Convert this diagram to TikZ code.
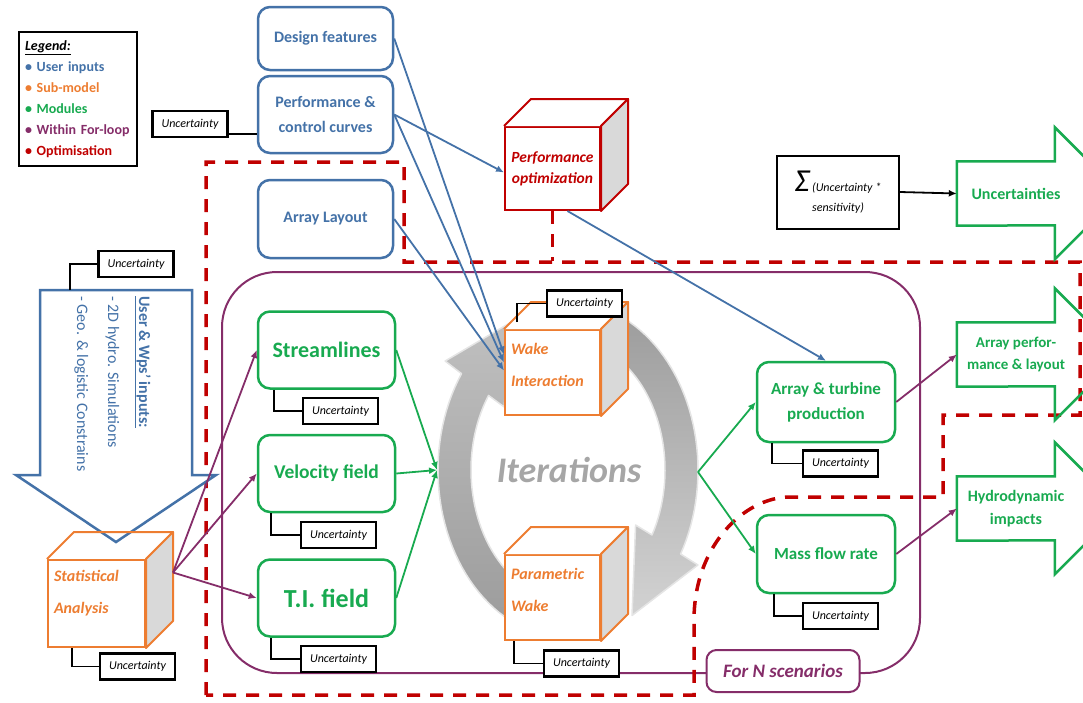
\documentclass[tikz,border=0pt]{standalone}
\usepackage{fontspec}
\setmainfont{Carlito}
\usepackage{tikz}
\usetikzlibrary{arrows.meta, % for arrow tips
                calc} % for relative coord calculations

\definecolor{userblue}{RGB}{68,114,168}
\definecolor{submodel}{RGB}{237,125,49}
\definecolor{modgreen}{RGB}{24,170,80}
\definecolor{looppurple}{RGB}{133,45,105}
\definecolor{optred}{RGB}{192,0,0}

% top and side faces of a cube whose front face is node #1
\newcommand{\cubefaces}[3]{%
  \filldraw[#2, line width=2pt, line join=round, fill=#3] (#1.north west) -- ++(27,-27) -- ([shift={(27,-27)}]#1.north east) -- (#1.north east);
  \filldraw[#2, line width=2pt, line join=round, fill=gray!30] (#1.north east) -- ([shift={(27,-27)}]#1.north east) -- ([shift={(27,-27)}]#1.south east) -- (#1.south east) -- cycle;
}

\begin{document}
\begin{tikzpicture}[x=1pt, y=-1pt,
                    >={Latex[length=8pt,width=7pt]},
                    inbox/.style={draw=userblue, line width=2.5pt, rounded corners=12pt, fill=white, text=userblue, font=\bfseries\fontsize{16}{25}\selectfont, align=center, minimum width=135pt},
                    modbox/.style={draw=modgreen, line width=2.5pt, rounded corners=12pt, fill=white, text=modgreen, align=center, minimum width=137pt, minimum height=77pt},
                    unc/.style={draw=black, line width=2.2pt, fill=white, font=\itshape\fontsize{12}{14}\selectfont, minimum width=75pt, minimum height=26pt, inner sep=1pt},
                    uncline/.style={draw=black, line width=1.5pt},
                    subcube/.style={draw=submodel, line width=2pt, fill=white, text=submodel, font=\bfseries\itshape\fontsize{16}{32}\selectfont, align=left, text width=83pt, inner xsep=6pt, minimum height=85pt},
                    optcube/.style={draw=optred, line width=2pt, fill=white, text=optred, font=\bfseries\itshape\fontsize{15.5}{21}\selectfont, align=center, minimum width=95pt, minimum height=83pt, inner sep=0pt},
                    outtext/.style={text=modgreen, font=\bfseries\fontsize{16}{23}\selectfont, align=center, minimum width=118pt, minimum height=64pt, inner sep=0pt},
                    outarrow/.style={draw=modgreen, line width=2.5pt, line join=miter},
                    userline/.style={->, draw=userblue, line width=1.8pt},
                    modline/.style={->, draw=modgreen, line width=1.8pt},
                    loopline/.style={->, draw=looppurple, line width=1.8pt},
                    optline/.style={draw=optred, line width=3.5pt, dash pattern=on 13pt off 10pt},
                    cyclearrow/.style={draw=gray!20, line width=1.5pt, line join=round}
                    ]
    \useasboundingbox (0,0) rectangle (1083,702);

    %for-loop frame
    \draw[looppurple, line width=2pt, rounded corners=55pt] (222,272) rectangle (920,673);

    %optimisation frame
    \draw[optline] (206,695) -- (206,162) -- (404,162) -- (404,262) -- (1080,262) -- (1080,415)
        -- (943,415) -- (943,497) -- (790,497) .. controls (745,497) and (694,545) .. (694,620) -- (694,695) -- cycle;

    %iteration cycle
    \coordinate (cycin) at (437,470);
    \coordinate (cycout) at (698,472);
    \draw[cyclearrow, top color=gray!50, bottom color=gray!78]
        plot[domain=105:215, samples=40] ({568+130*cos(\x)}, {470+168*sin(\x)})
        -- ({568+150*cos(215)}, {470+190*sin(215)})
        -- ({568+125*cos(243)}, {470+166*sin(243)})
        -- ({568+78*cos(215)}, {470+110*sin(215)})
        -- plot[domain=215:105, samples=40] ({568+97*cos(\x)}, {470+130*sin(\x)})
        -- cycle;
    \draw[cyclearrow, top color=gray!78, bottom color=gray!35]
        plot[domain=285:390, samples=40] ({568+130*cos(\x)}, {470+168*sin(\x)})
        -- ({568+150*cos(390)}, {470+190*sin(390)})
        -- ({568+128*cos(420)}, {470+168*sin(420)})
        -- ({568+78*cos(390)}, {470+110*sin(390)})
        -- plot[domain=390:285, samples=40] ({568+97*cos(\x)}, {470+130*sin(\x)})
        -- cycle;
    \node[text=gray!70, font=\bfseries\itshape\fontsize{36}{40}\selectfont] (iter) at (569,470) {Iterations};

    %user inputs arrow
    \draw[userblue, line width=2.5pt, fill=white, line join=miter] (40,290) -- (192,290) -- (192,475) -- (216,475) -- (116,542) -- (16,475) -- (40,475) -- cycle;
    \coordinate (wpstop) at (70,290);
    \node[rotate=-90, anchor=north west, align=left, text=userblue, font=\fontsize{16}{31}\selectfont, inner sep=0pt] (wps) at (151,296)
        {\textbf{\underline{User \& Wps' inputs:}}\\- 2D hydro. Simulations\\- Geo. \& logistic Constrains};

    %legend
    \node[draw, line width=2pt, align=left, text width=106pt, inner sep=6pt, minimum height=134pt, font=\bfseries\fontsize{14}{21}\selectfont] (legend) at (78,99)
        {\textit{\underline{Legend:}}\\
         \textcolor{userblue}{• User inputs}\\
         \textcolor{submodel}{• Sub-model}\\
         \textcolor{modgreen}{• Modules}\\
         \textcolor{looppurple}{• Within For-loop}\\
         \textcolor{optred}{• Optimisation}};

    %user input boxes
    \node[inbox, minimum height=63pt] (design) at (325.5,38.5) {Design features};
    \node[inbox, minimum height=77pt] (perfc) at (325.5,114.5) {Performance \&\\control curves};
    \node[inbox, minimum height=78pt] (alayout) at (325.5,219) {Array Layout};

    %module boxes
    \node[modbox, font=\bfseries\fontsize{22}{26}\selectfont] (stream) at (326.5,350) {Streamlines};
    \node[modbox, font=\bfseries\fontsize{19.5}{24}\selectfont] (velo) at (326.5,473.5) {Velocity field};
    \node[modbox, font=\bfseries\fontsize{26}{30}\selectfont] (ti) at (326.5,598) {T.I. field};
    \node[modbox, minimum width=138pt, minimum height=80pt, font=\bfseries\fontsize{17}{25}\selectfont] (aturb) at (826,402) {Array \& turbine\\production};
    \node[modbox, minimum width=138pt, minimum height=78pt, font=\bfseries\fontsize{17}{25}\selectfont] (mflow) at (826,554) {Mass flow rate};

    %sub-model cubes
    \node[subcube, minimum height=87pt, text width=85pt] (stat) at (96.5,603.5) {Statistical\\Analysis\\[-8pt]\mbox{}};
    \cubefaces{stat}{submodel}{none}
    \coordinate (statout) at ([shift={(27,-31)}]stat.east);
    \node[subcube] (wake) at (552.5,372.5) {Wake\\Interaction\\[-16pt]\mbox{}};
    \cubefaces{wake}{submodel}{white}
    \node[subcube] (param) at (552.5,597.5) {Parametric\\Wake\\[-16pt]\mbox{}};
    \cubefaces{param}{submodel}{white}
    \node[optcube] (perfopt) at (552.5,168.5) {Performance\\optimization};
    \cubefaces{perfopt}{optred}{white}
    \draw[optline] (perfopt.south) -- ++(0,50);

    %loop label
    \node[draw=looppurple, line width=2pt, rounded corners=10pt, fill=white, text=looppurple, font=\bfseries\itshape\fontsize{19}{22}\selectfont, minimum width=153pt, minimum height=42pt] (forN) at (783,671) {For N scenarios};

    %sum of uncertainties
    \node[draw, line width=2pt, minimum width=122pt, minimum height=73pt, align=center, font=\itshape\fontsize{12}{14}\selectfont] (sigma) at (838,192)
        {{\fontsize{32}{32}\selectfont Σ}\ (Uncertainty *\\[6pt]sensitivity)};

    %outputs
    \node[outtext] (uncout) at (1016,193.5) {Uncertainties};
    \node[outtext, font=\bfseries\fontsize{15}{22}\selectfont] (aperf) at (1016,354.5) {Array perfor-\\mance \& layout};
    \node[outtext] (hydro) at (1016,508.5) {Hydrodynamic\\impacts};
    \foreach \out in {uncout, aperf, hydro}
        \draw[outarrow] (\out.north west) -- ++(98,0) -- ++(0,-34) -- ++(66,66) -- ++(-66,66) -- ++(0,-34) -- (\out.south west) -- cycle;

    %uncertainty boxes
    \node[unc] (uncPC) at (190,124) {Uncertainty};
    \node[unc] (uncArr) at (136,264) {Uncertainty};
    \node[unc] (uncStat) at (137.5,666.5) {Uncertainty};
    \node[unc] (uncS) at (340.5,411) {Uncertainty};
    \node[unc] (uncV) at (338.5,535) {Uncertainty};
    \node[unc] (uncT) at (338.5,659) {Uncertainty};
    \node[unc] (uncW) at (584.5,303.5) {Uncertainty};
    \node[unc] (uncP) at (581.5,663.5) {Uncertainty};
    \node[unc] (uncA) at (840.5,463.5) {Uncertainty};
    \node[unc] (uncM) at (840.5,616) {Uncertainty};

    \coordinate (pcl) at ([yshift=-10]uncPC.east);
    \draw[uncline] (pcl) -- (pcl -| perfc.west);
    \draw[uncline] (wpstop) |- (uncArr.west);
    \draw[uncline] ([xshift=25]stat.south west) |- (uncStat.west);
    \draw[uncline] ([xshift=17]stream.south west) |- (uncS.west);
    \draw[uncline] ([xshift=14]velo.south west) |- (uncV.west);
    \draw[uncline] ([xshift=14]ti.south west) |- (uncT.west);
    \draw[uncline] ([xshift=13,yshift=7]wake.north west) |- (uncW.west);
    \draw[uncline] ([xshift=10]param.south west) |- (uncP.west);
    \draw[uncline] ([xshift=16]aturb.south west) |- (uncA.west);
    \draw[uncline] ([xshift=18]mflow.south west) |- (uncM.west);

    %connectors
    \draw[userline] (design.east) -- ([yshift=18]wake.west);
    \draw[userline] (perfc.east) -- ([yshift=10]wake.west);
    \draw[userline] (alayout.east) -- ([yshift=2]wake.west);
    \draw[userline] (perfc.east) -- ([yshift=-4]perfopt.west);
    \draw[userline] ([xshift=15]perfopt.south) -- (aturb.north);

    \draw[loopline] (statout) -- (stream.west);
    \draw[loopline] (statout) -- (velo.west);
    \draw[loopline] (statout) -- (ti.west);

    \draw[modline] (stream.east) -- (cycin);
    \draw[modline] (velo.east) -- (cycin);
    \draw[modline] (ti.east) -- (cycin);
    \draw[modline] (cycout) -- (aturb.west);
    \draw[modline] (cycout) -- (mflow.west);

    \draw[loopline] (aturb.east) -- (aperf.west);
    \draw[loopline] (mflow.east) -- (hydro.west);
    \draw[->, line width=1.8pt] (sigma.east) -- (uncout.west);

\end{tikzpicture}
\end{document}
